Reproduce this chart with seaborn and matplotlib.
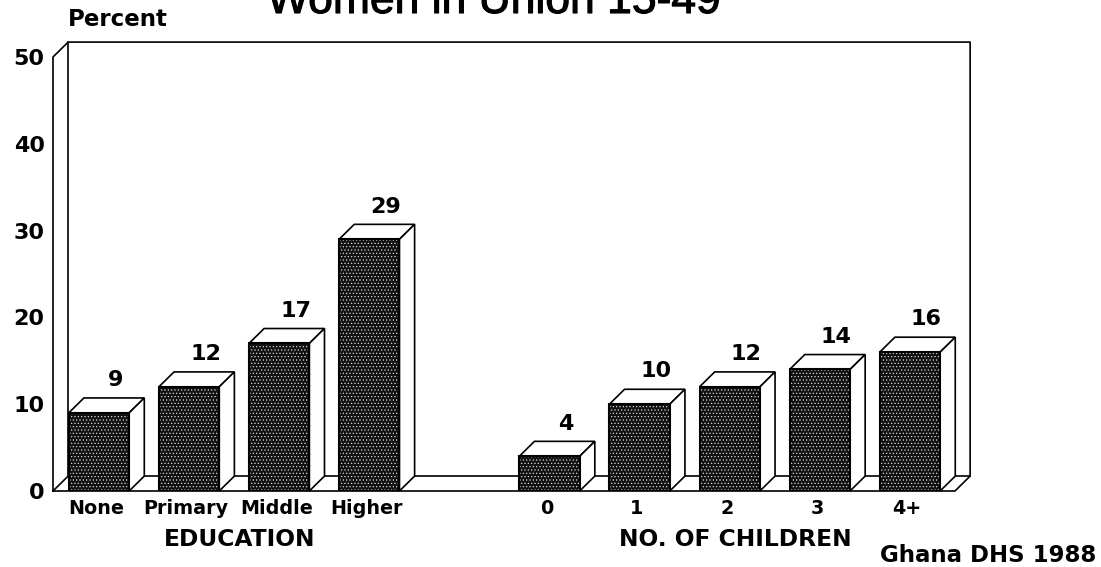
import matplotlib
matplotlib.use("Agg")
import matplotlib.pyplot as plt
import matplotlib.patheffects as pe
from matplotlib.patches import Polygon, Rectangle
from matplotlib.transforms import ScaledTranslation
import pandas as pd
import seaborn as sns

# women in union 15-49, Ghana DHS 1988
edu_labels = ["None", "Primary", "Middle", "Higher"]
edu_values = [9, 12, 17, 29]
edu_pos = [0, 1, 2, 3]

child_labels = ["0", "1", "2", "3", "4+"]
child_values = [4, 10, 12, 14, 16]
child_pos = [5, 6, 7, 8, 9]

yticks = [0, 10, 20, 30, 40, 50]

W, H = 1101, 567
# depth of the fake 3d, in data units
DX = 0.168
DY = 1.72

sns.set_theme(style="white")
plt.rcParams["font.family"] = ["DejaVu Sans"]
plt.rcParams["hatch.linewidth"] = 0.5

df = pd.DataFrame({
    "pos": edu_pos + child_pos,
    "value": edu_values + child_values,
})

fig = plt.figure(figsize=(W / 100, H / 100), dpi=100)
# front of the box: x 53..955, y 491..57 in pixels
ax = fig.add_axes([53 / W, 1 - 491 / H, (955 - 53) / W, (491 - 57) / H])

sns.barplot(data=df, x="pos", y="value", native_scale=True, width=0.67,
            color="#111111", saturation=1, ax=ax)

ax.set_xlim(-0.51, 9.5)
ax.set_ylim(0, 50)
for s in ax.spines.values():
    s.set_visible(False)

# box behind the bars
x0, x1 = ax.get_xlim()
y0, y1 = ax.get_ylim()
box = dict(color="black", lw=1.2, clip_on=False, zorder=0.5)
ax.plot([x0, x0, x0 + DX, x1 + DX, x1 + DX, x1, x0, x0],
        [y0, y1, y1 + DY, y1 + DY, y0 + DY, y0, y0, y0], **box)
ax.plot([x0 + DX, x0 + DX, x1 + DX], [y1 + DY, y0 + DY, y0 + DY], **box)
ax.plot([x0, x0 + DX], [y0, y0 + DY], **box)

labels = edu_values + child_values
for bar, val in zip(ax.patches, labels):
    x, w, h = bar.get_x(), bar.get_width(), bar.get_height()
    bar.set_edgecolor("#d8d8d8")
    bar.set_linewidth(0)
    bar.set_hatch(".....")
    bar.set_zorder(2)
    ax.add_patch(Rectangle((x, 0), w, h, fill=False, ec="black", lw=1.5, zorder=3))
    # top and side faces
    ax.add_patch(Polygon([(x, h), (x + DX, h + DY), (x + w + DX, h + DY), (x + w, h)],
                         fc="white", ec="black", lw=1.2, zorder=1.5, clip_on=False))
    ax.add_patch(Polygon([(x + w, 0), (x + w + DX, DY), (x + w + DX, h + DY), (x + w, h)],
                         fc="white", ec="black", lw=1.2, zorder=1.5, clip_on=False))
    ax.annotate(str(val), (x + w / 2 + DX, h + DY), xytext=(1, 8.5),
                textcoords="offset points", ha="center", va="baseline",
                fontsize=16, fontweight="bold", color="black")

ax.set_xticks(edu_pos + child_pos)
ax.set_xticklabels(edu_labels + child_labels, fontsize=13.8, fontweight="bold", color="black")
ax.set_yticks(yticks)
ax.set_yticklabels([str(t) for t in yticks], fontsize=16, fontweight="bold", color="black")
ax.tick_params(axis="x", length=0, pad=6)
ax.tick_params(axis="y", length=0, pad=6)
ax.set_xlabel("")
ax.set_ylabel("")

# the tick labels sit a little left of the bars
shift = ScaledTranslation(-3 / 100, 0, fig.dpi_scale_trans)
for t in ax.get_xticklabels():
    t.set_transform(t.get_transform() + shift)

def label(px, py, s, size, ha="center", va="center", weight="bold", family="DejaVu Sans"):
    return fig.text(px / W, 1 - py / H, s, fontsize=size, ha=ha, va=va,
                    fontweight=weight, color="black", family=family)

label(68, 19, "Percent", 16.5, ha="left")
title = label(494, 13, "Women in Union 15-49", 32, va="baseline", weight="normal", family="Liberation Sans")
title.set_path_effects([pe.withStroke(linewidth=0.8, foreground="black")])
label(240, 539, "EDUCATION", 16.8)
label(735, 539, "NO. OF CHILDREN", 16.8)
label(988, 555, "Ghana DHS 1988", 16.5)

fig.savefig("out.png", dpi=100)
